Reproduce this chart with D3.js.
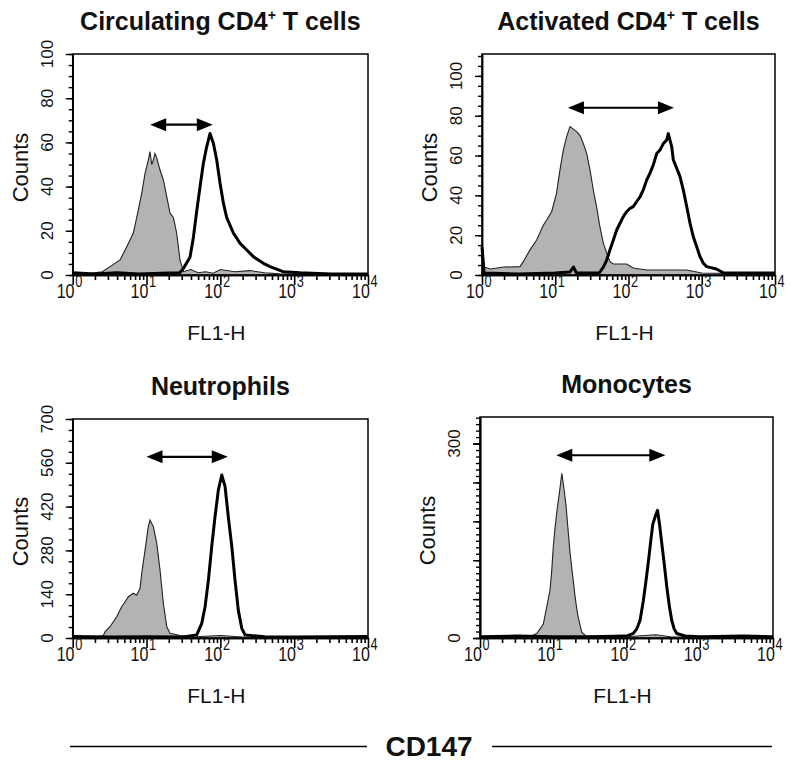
<!DOCTYPE html>
<html><head><meta charset="utf-8">
<script src="https://cdn.jsdelivr.net/npm/d3@7"></script>
<style>body{margin:0;background:#fff}svg{display:block}</style>
</head><body><svg id="c" width="800" height="767"></svg>
<script>
// ---------------- DATA ----------------
// Panel titles: [main, superscript, tail]
const titles = [
  ["Circulating CD4", "+", " T cells"],
  ["Activated CD4", "+", " T cells"],
  ["Neutrophils", "", ""],
  ["Monocytes", "", ""]
];
const xAxisLabel = "FL1-H";
const yAxisLabel = "Counts";
const bottomLabel = "CD147";
const xDecades = [1, 10, 100, 1000, 10000];
const xDecadeExp = ["0", "1", "2", "3", "4"];

const yLabels1 = [0, 20, 40, 60, 80, 100];
const yLabels2 = [0, 20, 40, 60, 80, 100];
const yLabels3 = [0, 140, 280, 420, 560, 700];
const yLabels4 = [0, 300];
const yMax = [100, 111, 700, 341];

// Histograms: [FL1-H intensity, counts]; iso = isotype control (grey), cd = CD147 (black)
const iso1 = [[1,1],[1.58,0.5],[2.51,1.5],[3.2,3.8],[4.38,6.8],[5.4,12.8],[6.62,19],[7.74,29.4],[8.61,37],[9.55,46],[10.57,52],[11.14,55.8],[11.75,50],[12.36,52],[13.0,55],[13.74,53],[15.24,47.5],[16.9,43],[18.8,35.4],[20.8,28],[23.1,26],[25.6,19],[28.4,6.8],[31.6,1.5],[39.8,2.5],[50,1],[63,1.5],[80,0.8],[100,2.5],[158,1.5],[251,2],[398,1],[631,0.5],[1585,0.3],[10000,0]];
const cd1 = [[1,1],[2,0.5],[4,1],[7.9,0.5],[15.8,0.8],[28.2,1],[31.6,3],[38.8,8],[43.1,17],[47.9,29],[53.1,40],[58.9,50.6],[65.3,58],[72.4,64],[80.4,59.6],[89.3,52],[99,41.6],[110,32.5],[122,26],[150,19],[185,14.3],[228,11.3],[280,8.3],[383,5.3],[471,3.8],[708,1.5],[1202,1],[3162,0.5],[10000,0.5]];

const iso2 = [[1,15],[1.07,4],[1.29,3],[2,4],[3.3,4.2],[3.66,6.7],[4.52,12.6],[5.57,17.6],[6.87,25],[7.64,27.6],[8.93,31.8],[10.4,41],[11.6,52.8],[12.9,62.8],[14.3,69.5],[15.9,74.5],[19.6,72],[21.8,70],[24.2,66],[26.9,61],[29.8,52.8],[33.1,42.7],[36.8,34],[40.8,24],[45.3,16],[50.4,11],[55.8,6.7],[62.1,5.5],[94.4,5.5],[116,3.5],[177,2.5],[624,2.5],[1000,1],[10000,0.5]];
const cd2 = [[1,14],[1.07,1],[3.16,0.5],[10,1],[15.8,1.5],[17.7,4],[19.5,1],[39.8,1],[45.3,4],[50.4,7.5],[55.8,12.6],[62.1,17.6],[69,22.6],[76.6,26],[84.9,29.3],[94.4,31.8],[105,33.5],[116,34.3],[129,36.8],[144,39.3],[159,42.7],[177,47.7],[196,51],[218,55.3],[243,61],[269,62.8],[299,66],[332,67.8],[349,71],[389,64.5],[409,57.8],[455,53.6],[505,49.4],[560,42.7],[624,34.3],[692,26],[767,19.2],[853,14.2],[946,9.2],[1052,5.9],[1167,4.2],[1585,3],[1995,1],[10000,1]];

const iso3 = [[1,5],[2,3],[2.6,8],[2.74,20],[3.2,36],[3.94,68],[4.61,100],[5.12,116],[5.68,132],[6.62,143],[7.36,137],[8.17,159],[8.61,207],[9.55,281],[10.57,356],[11.14,377],[12.36,356],[13.74,303],[15.24,217],[16.9,111],[18.8,36],[20.8,15],[28.4,8],[39.8,3],[100,8],[200,3],[10000,0]];
const cd3 = [[1,5],[3.16,3],[10,4],[31.6,3],[47.9,10],[56,47],[62.1,100],[68.9,185],[76.4,292],[84.7,388],[94,473],[104.5,521],[115.9,484],[128,388],[143,292],[158,185],[175,89],[195,31],[216,10],[398,4],[1000,3],[3162,4],[10000,5]];

const iso4 = [[1,2],[3.16,2],[5,3],[5.94,7],[6.61,14],[7.33,22],[8.15,48],[9.04,74],[9.53,104],[10,140],[10.6,171],[11.4,202],[12.1,223],[13.1,254],[14.1,228],[15,202],[16.1,161],[17,130],[18.5,94],[19.9,63],[21.4,38],[23.2,20],[24.5,9],[28.2,3],[100,2],[251,5],[398,2],[10000,1]];
const cd4 = [[1,2],[3.16,3],[10,2],[31.6,2],[100,3],[124,7],[138,14],[153,27],[170,58],[185,89],[200,120],[215,151],[229,176],[246,187],[265,197],[282,176],[303,146],[327,115],[355,79],[386,48],[415,27],[447,14],[486,7],[631,3],[1000,2],[3981,3],[10000,2]];

// Double arrows: [from FL1-H, to FL1-H, counts level]
const arrow1 = [11.2, 79, 68];
const arrow2 = [14.9, 417, 84];
const arrow3 = [10, 126, 579];
const arrow4 = [11, 339, 282];

// ---------------- LAYOUT ----------------
const FONT = "'Liberation Sans', Arial, Helvetica, sans-serif";
const boxes = [
  {l:72.7, r:368, t:54, b:275, yMinor:5, yMid:null},
  {l:482, r:775, t:54, b:275, yMinor:5, yMid:null},
  {l:72.7, r:368, t:419, b:638, yMinor:35, yMid:null},
  {l:480, r:773, t:417, b:638, yMinor:10, yMid:60}
];
const panels = [
  {title:titles[0], iso:iso1, cd:cd1, yLabels:yLabels1, yMax:yMax[0], arrow:arrow1, box:boxes[0]},
  {title:titles[1], iso:iso2, cd:cd2, yLabels:yLabels2, yMax:yMax[1], arrow:arrow2, box:boxes[1]},
  {title:titles[2], iso:iso3, cd:cd3, yLabels:yLabels3, yMax:yMax[2], arrow:arrow3, box:boxes[2]},
  {title:titles[3], iso:iso4, cd:cd4, yLabels:yLabels4, yMax:yMax[3], arrow:arrow4, box:boxes[3]}
];

const svg = d3.select("#c");
svg.append("rect").attr("width",800).attr("height",767).attr("fill","#fff");

panels.forEach((p) => {
  const B = p.box;
  const x = d3.scaleLog().domain([1, 10000]).range([B.l, B.r]);
  const y = d3.scaleLinear().domain([0, p.yMax]).range([B.b, B.t]);
  const g = svg.append("g");
  const cx = (B.l + B.r) / 2;

  // title
  const tt = g.append("text").attr("x", cx).attr("y", B.t - 24)
    .attr("text-anchor","middle").attr("font-family",FONT).attr("font-weight","bold")
    .attr("font-size",25).attr("fill","#111");
  tt.append("tspan").text(p.title[0]);
  if (p.title[1]) {
    tt.append("tspan").attr("font-size",14).attr("dy",-10).text(p.title[1]);
    tt.append("tspan").attr("dy",10).text(p.title[2]);
  }

  // curves
  const area = d3.area().x(d => x(d[0])).y0(y(0)).y1(d => y(d[1])).curve(d3.curveLinear);
  const line = d3.line().x(d => x(d[0])).y(d => y(d[1])).curve(d3.curveLinear);
  g.append("path").datum(p.iso).attr("d", area).attr("fill","#b3b3b3");
  g.append("path").datum(p.iso).attr("d", line).attr("fill","none").attr("stroke","#222").attr("stroke-width",1.1);
  g.append("path").datum(p.cd).attr("d", line).attr("fill","none").attr("stroke","#000")
    .attr("stroke-width",3).attr("stroke-linejoin","round");

  // frame
  g.append("rect").attr("x",B.l).attr("y",B.t).attr("width",B.r-B.l).attr("height",B.b-B.t)
    .attr("fill","none").attr("stroke","#000").attr("stroke-width",1.5);

  // x axis ticks
  const minors = [];
  for (let d = 1; d < 10000; d *= 10) for (let k = 2; k <= 9; k++) minors.push(d*k);
  const xa = g.append("g").attr("transform",`translate(0,${B.b})`)
    .call(d3.axisBottom(x).tickValues(xDecades).tickSize(10).tickSizeOuter(0).tickFormat(""));
  const xm = g.append("g").attr("transform",`translate(0,${B.b})`)
    .call(d3.axisBottom(x).tickValues(minors).tickSize(5).tickSizeOuter(0).tickFormat(""));
  [xa, xm].forEach(a => { a.select(".domain").attr("stroke-width",1.5); a.selectAll("line").attr("stroke-width",1.6); });

  // x tick labels (10^n), condensed
  xDecades.forEach((v, i) => {
    const tg = g.append("g").attr("transform",`translate(${x(v) - 16},${B.b + 23}) scale(0.8,1)`);
    const t = tg.append("text").attr("font-family",FONT).attr("font-size",20).attr("fill","#111");
    t.append("tspan").text("10");
    t.append("tspan").attr("font-size",16).attr("dy",-11).attr("dx",1).text(xDecadeExp[i]);
  });
  // x axis title
  g.append("text").attr("x", cx - 4).attr("y", B.b + 65).attr("text-anchor","middle")
    .attr("font-family",FONT).attr("font-size",21).attr("fill","#111").text(xAxisLabel);

  // y axis ticks
  const yMinorVals = d3.range(0, p.yMax + 0.01, B.yMinor);
  const ya = g.append("g").attr("transform",`translate(${B.l},0)`)
    .call(d3.axisLeft(y).tickValues(p.yLabels).tickSize(7).tickSizeOuter(0).tickFormat(""));
  const ym = g.append("g").attr("transform",`translate(${B.l},0)`)
    .call(d3.axisLeft(y).tickValues(yMinorVals).tickSize(4).tickSizeOuter(0).tickFormat(""));
  const axes = [ya, ym];
  if (B.yMid) {
    const yMidVals = d3.range(0, p.yMax + 0.01, B.yMid);
    axes.push(g.append("g").attr("transform",`translate(${B.l},0)`)
      .call(d3.axisLeft(y).tickValues(yMidVals).tickSize(7).tickSizeOuter(0).tickFormat("")));
  }
  axes.forEach(a => { a.select(".domain").attr("stroke-width",1.5); a.selectAll("line").attr("stroke-width",1.4); });

  // y tick labels rotated
  p.yLabels.forEach(v => {
    g.append("text").attr("transform",`translate(${B.l - 20},${y(v)}) rotate(-90)`)
      .attr("text-anchor","middle").attr("font-family",FONT).attr("font-size",17).attr("fill","#111").text(v);
  });
  // y axis title
  g.append("text").attr("transform",`translate(${B.l - 45},${(B.t + B.b)/2 + 3}) rotate(-90)`)
    .attr("text-anchor","middle").attr("font-family",FONT).attr("font-size",22).attr("fill","#111").text(yAxisLabel);

  // double arrow
  const [a0, a1, ay] = p.arrow;
  const X0 = x(a0), X1 = x(a1), Y = y(ay), hl = 16, hw = 6.5;
  g.append("line").attr("x1",X0 + hl - 2).attr("x2",X1 - hl + 2).attr("y1",Y).attr("y2",Y)
    .attr("stroke","#000").attr("stroke-width",2.2);
  g.append("path").attr("d",`M${X0},${Y}L${X0+hl},${Y-hw}L${X0+hl},${Y+hw}Z`).attr("fill","#000");
  g.append("path").attr("d",`M${X1},${Y}L${X1-hl},${Y-hw}L${X1-hl},${Y+hw}Z`).attr("fill","#000");
});

// bottom CD147 label with rules
svg.append("line").attr("x1",70).attr("x2",367).attr("y1",746.5).attr("y2",746.5).attr("stroke","#000").attr("stroke-width",1.7);
svg.append("line").attr("x1",492).attr("x2",772).attr("y1",746.5).attr("y2",746.5).attr("stroke","#000").attr("stroke-width",1.7);
svg.append("text").attr("x",429).attr("y",756).attr("text-anchor","middle").attr("font-family",FONT)
  .attr("font-weight","bold").attr("font-size",28).attr("fill","#111").text(bottomLabel);
</script>
</body></html>
